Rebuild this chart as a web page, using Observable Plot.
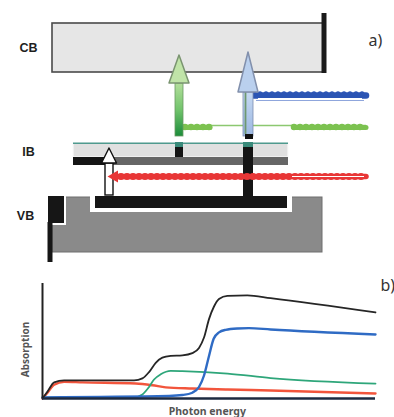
<!DOCTYPE html>
<html><head><meta charset="utf-8">
<script src="https://cdn.jsdelivr.net/npm/d3@7"></script>
<script src="https://cdn.jsdelivr.net/npm/@observablehq/plot@0.6"></script>
<style>
html,body{margin:0;padding:0;background:#fff;}
#chart{width:394px;height:417px;position:relative;overflow:hidden;font-family:"Liberation Sans",Arial,sans-serif;}
#chart svg{display:block;}
</style></head><body><div id="chart"></div>
<script>
// ---------- Panel a) band diagram (diagram units: position, energy level) ----------
const bandLabels = ["CB", "IB", "VB"];
const bandLeft   = [52, 73, 52];
const bandRight  = [324, 288, 322];
const bandBottom = [198, 113, 18];
const bandTop    = [247, 127, 73];

const arrowNames = ["IB→CB", "VB→CB", "VB→IB"];
const arrowX     = [179, 248, 109];
const arrowFrom  = [134, 134, 75];
const arrowTo    = [215, 218, 122];

const photonNames = ["blue", "green", "red"];
const photonStart = [254, 183, 115];
const photonEnd   = [366, 366, 366];
const photonLevel = [175, 143, 94];

// ---------- Panel b) absorption spectra ----------
const energyBlack = [0, 1.5, 3.5, 6.5, 12, 27.5, 30, 32, 34, 36, 38.5, 42, 45, 47, 48.5, 50, 51.5, 53, 55.5, 61.5, 68.5, 100];
const absBlack    = [0, 0.06, 0.14, 0.157, 0.158, 0.157, 0.175, 0.23, 0.31, 0.355, 0.37, 0.375, 0.395, 0.44, 0.53, 0.69, 0.8, 0.865, 0.893, 0.896, 0.873, 0.748];
const energyBlue  = [0, 38, 42, 45, 47, 48.5, 50, 51.4, 53, 55, 58.6, 62, 68.5, 100];
const absBlue     = [0.01, 0.022, 0.03, 0.05, 0.1, 0.2, 0.37, 0.52, 0.575, 0.597, 0.609, 0.612, 0.6, 0.557];
const energyGreen = [0, 27.5, 30, 32, 33.5, 35.5, 38.5, 42, 55.6, 68.5, 100];
const absGreen    = [0.008, 0.01, 0.035, 0.1, 0.165, 0.21, 0.24, 0.238, 0.217, 0.178, 0.13];
const energyRed   = [0, 1.5, 3.5, 6.5, 12, 28, 33, 37, 45, 55.6, 68.5, 100];
const absRed      = [0, 0.05, 0.12, 0.145, 0.14, 0.13, 0.115, 0.097, 0.087, 0.078, 0.07, 0.043];

// ---------- build panel a ----------
const bands = bandLabels.map((name, i) => ({name, x1: bandLeft[i], x2: bandRight[i], y1: bandBottom[i], y2: bandTop[i]}));
const CB = bands[0], IB = bands[1], VB = bands[2];
const arrows = arrowNames.map((name, i) => ({name, x: arrowX[i], from: arrowFrom[i], to: arrowTo[i]}));
const photons = photonNames.map((name, i) => ({name, x1: photonStart[i], x2: photonEnd[i], y: photonLevel[i]}));

const headLen = [28, 40, 15], headHalf = [10, 10, 7.5], shaftHalf = [4, 5, 4];
const shaft = i => [{x1: arrows[i].x - shaftHalf[i], x2: arrows[i].x + shaftHalf[i], y1: arrows[i].from, y2: arrows[i].to - headLen[i]}];
const head = i => [
  {y: arrows[i].to - headLen[i], x1: arrows[i].x - headHalf[i], x2: arrows[i].x + headHalf[i]},
  {y: arrows[i].to, x1: arrows[i].x, x2: arrows[i].x}
];
const wave = (p, o = {}) => [
  Plot.ruleY([p], {y: d => d.y + (o.dy || 0), x1: d => o.x1 ?? d.x1, x2: d => o.x2 ?? d.x2, stroke: o.color, strokeWidth: o.w || 4, strokeLinecap: "round"}),
  Plot.ruleY([p], {y: d => d.y + (o.dy || 0) + (o.beadDy || 0), x1: d => o.x1 ?? d.x1, x2: d => o.x2 ?? d.x2, stroke: o.color, strokeWidth: o.bw || 6, strokeLinecap: "round", strokeDasharray: o.dash || "0 6"})
];
const blue = photons[0], green = photons[1], red = photons[2];

const panelA = Plot.plot({
  width: 394, height: 270, margin: 0,
  x: {domain: [0, 394], axis: null},
  y: {domain: [0, 270], axis: null},
  marks: [
    // conduction band
    Plot.rect([CB], {x1: "x1", x2: "x2", y1: "y1", y2: "y2", fill: "#e6e6e6", stroke: "#4a4a4a", strokeWidth: 1.6}),
    Plot.ruleX([CB], {x: d => d.x2 - 0.5, y1: d => d.y1 - 1, y2: d => d.y2 + 10, stroke: "#1a1a1a", strokeWidth: 5}),
    // valence band
    Plot.rect([VB], {x1: "x1", x2: "x2", y1: "y1", y2: "y2", fill: "#8a8a8a", stroke: "#6e6e6e", strokeWidth: 1}),
    Plot.rect([VB], {x1: d => d.x1 + 38, x2: d => d.x2 - 30, y1: d => d.y2 - 15, y2: d => d.y2 + 3, fill: "#fff"}),
    Plot.rect([VB], {x1: d => d.x1 + 43, x2: d => d.x2 - 35, y1: d => d.y2 - 11, y2: d => d.y2 + 1, fill: "#161616"}),
    Plot.rect([VB], {x1: d => d.x1 - 6, x2: d => d.x1 + 14, y1: d => d.y2 - 28, y2: d => d.y2 + 3, fill: "#fff"}),
    Plot.rect([VB], {x1: d => d.x1 - 4, x2: d => d.x1 + 12, y1: d => d.y2 - 26, y2: d => d.y2 + 1, fill: "#161616"}),
    Plot.ruleX([VB], {x: d => d.x1 - 2.5, y1: d => d.y1 - 10, y2: d => d.y2 - 25, stroke: "#161616", strokeWidth: 5}),
    // intermediate band
    Plot.rect([IB], {x1: "x1", x2: "x2", y1: "y1", y2: "y2", fill: "#e0e0e0", stroke: "#fafafa", strokeWidth: 1.2}),
    Plot.ruleY([IB], {y: d => d.y2 + 0.3, x1: "x1", x2: "x2", stroke: "#4f9a8e", strokeWidth: 1.5}),
    Plot.rect([IB], {x1: "x1", x2: "x2", y1: d => d.y1 - 8, y2: d => d.y1, fill: "#666"}),
    Plot.rect([IB], {x1: "x1", x2: d => d.x1 + 32, y1: d => d.y1 - 8, y2: d => d.y1, fill: "#151515"}),
    // vertical channels through IB
    Plot.rect([arrows[0]], {x1: d => d.x - 4, x2: d => d.x + 4, y1: IB.y1, y2: IB.y2 - 4, fill: "#151515"}),
    Plot.rect([arrows[0]], {x1: d => d.x - 4, x2: d => d.x + 4, y1: IB.y2 - 4, y2: IB.y2 + 1, fill: "#3a8a7a"}),
    Plot.rect([arrows[1]], {x1: d => d.x - 5, x2: d => d.x + 5, y1: VB.y2, y2: IB.y2 - 4, fill: "#151515"}),
    Plot.rect([arrows[1]], {x1: d => d.x - 5, x2: d => d.x + 5, y1: IB.y2 - 4, y2: IB.y2 + 1, fill: "#3a8a7a"}),
    // white arrow VB -> IB
    Plot.rect(shaft(2), {x1: "x1", x2: "x2", y1: "y1", y2: "y2", fill: "#fff", stroke: "#111", strokeWidth: 1.4}),
    Plot.areaX(head(2), {y: "y", x1: "x1", x2: "x2", fill: "#fff", stroke: "#111", strokeWidth: 1.4}),
    // photon waves
    Plot.ruleY([green], {y: d => d.y + 2, x1: "x1", x2: "x2", stroke: "#8cc870", strokeWidth: 1.6}),
    ...wave(green, {color: "#7cc250", x1: 185, x2: 210, w: 5, bw: 6.5, beadDy: 0.5}),
    ...wave(green, {color: "#7cc250", x1: 294, x2: 366, w: 5, bw: 6.5, beadDy: 0.5}),
    Plot.ruleY([blue], {y: d => d.y - 5, x1: d => d.x1 + 2, x2: d => d.x2 - 2, stroke: "#8fa6dc", strokeWidth: 1}),
    ...wave(blue, {color: "#2c55b4", w: 6.5, bw: 5, beadDy: 1.8}),
    Plot.ruleY([blue], {y: d => d.y - 3.3, x1: d => d.x1 + 4, x2: d => d.x2 - 4, stroke: "#fff", strokeWidth: 1.6}),
    // green arrow IB -> CB
    Plot.rect(shaft(0), {x1: "x1", x2: "x2", y1: "y1", y2: "y2", fill: "url(#gGreen)", stroke: "#6a9a62", strokeWidth: 0.8}),
    Plot.areaX(head(0), {y: "y", x1: "x1", x2: "x2", fill: "#c0e4a8", stroke: "#7a9470", strokeWidth: 1.5}),
    // blue arrow VB -> CB
    Plot.rect(shaft(1), {x1: "x1", x2: "x2", y1: "y1", y2: "y2", fill: "url(#gBlue)", stroke: "#7a8cb0", strokeWidth: 0.8}),
    Plot.ruleX([arrows[1]], {x: d => d.x - 3, y1: d => d.from + 2, y2: d => d.to - 38, stroke: "#6e9870", strokeWidth: 1.8}),
    Plot.areaX(head(1), {y: "y", x1: "x1", x2: "x2", fill: "#bad0ee", stroke: "#8290ac", strokeWidth: 1.5}),
    Plot.rect([arrows[1]], {x1: d => d.x - 3, x2: d => d.x + 5, y1: d => d.from - 3, y2: d => d.from + 2, fill: "#111"}),
    // red wave (over the VB channel)
    ...wave(red, {color: "#e83636", w: 5.5, bw: 7, dash: "0 6"}),
    Plot.ruleY([red], {y: "y", x1: 292, x2: d => d.x2 - 2, stroke: "#fff", strokeWidth: 1.2}),
    Plot.dot([red], {x: d => d.x1 - 1, y: "y", symbol: "triangle", rotate: -90, r: 4.5, fill: "#e83636"}),
    // labels
    Plot.text(bands, {x: (d, i) => [28, 28, 25][i], y: (d, i) => [223, 119, 55][i], text: "name", fontSize: 12.5, fontWeight: "bold", fill: "#1e1e1e", fontFamily: "Liberation Sans, Arial, sans-serif"}),
    Plot.text(["a)"], {x: 375, y: 230, text: d => d, fontSize: 16, fill: "#333"})
  ]
});

const defs = `<defs>
<linearGradient id="gGreen" x1="0" y1="0" x2="0" y2="1">
<stop offset="0" stop-color="#b4df9c"/><stop offset="0.5" stop-color="#72c46c"/><stop offset="1" stop-color="#1b8c3a"/></linearGradient>
<linearGradient id="gBlue" x1="0" y1="0" x2="0" y2="1">
<stop offset="0" stop-color="#c6d9f2"/><stop offset="1" stop-color="#9cb8e2"/></linearGradient>
</defs>`;
d3.select(panelA).insert("g", ":first-child").html(defs);

// ---------- build panel b ----------
const toRows = (E, A, series) => E.map((e, i) => ({energy: e, absorption: A[i], series}));
const rowsBlack = toRows(energyBlack, absBlack, "total");
const rowsBlue = toRows(energyBlue, absBlue, "VB→CB");
const rowsGreen = toRows(energyGreen, absGreen, "IB→CB");
const rowsRed = toRows(energyRed, absRed, "VB→IB");

const panelB = Plot.plot({
  width: 394, height: 147,
  marginLeft: 42, marginRight: 19, marginTop: 13, marginBottom: 19,
  x: {domain: [0, 100], axis: null},
  y: {domain: [0, 1], axis: null},
  marks: [
    Plot.line(rowsRed, {x: "energy", y: "absorption", stroke: "#f2553c", strokeWidth: 2.4, curve: "monotone-x"}),
    Plot.line(rowsGreen, {x: "energy", y: "absorption", stroke: "#2ea67a", strokeWidth: 1.8, curve: "monotone-x"}),
    Plot.line(rowsBlue, {x: "energy", y: "absorption", stroke: "#2f6bc4", strokeWidth: 2.4, curve: "monotone-x"}),
    Plot.line(rowsBlack, {x: "energy", y: "absorption", stroke: "#262626", strokeWidth: 1.8, curve: "monotone-x"}),
    Plot.ruleY([0], {stroke: "#1c2a40", strokeWidth: 2.6}),
    Plot.ruleX([0], {stroke: "#222", strokeWidth: 2}),
    Plot.text(["Absorption"], {x: -5, y: 0.426, text: d => d, rotate: -90, fontSize: 10, fontWeight: "bold", fill: "#555"}),
    Plot.text(["Photon energy"], {x: 49.5, y: -0.11, text: d => d, fontSize: 10.5, fontWeight: "bold", fill: "#555"}),
    Plot.text(["b)"], {x: 101.5, y: 0.98, text: d => d, textAnchor: "start", fontSize: 16, fill: "#333"})
  ]
});

const chart = document.getElementById("chart");
chart.appendChild(panelA);
chart.appendChild(panelB);
</script></body></html>
